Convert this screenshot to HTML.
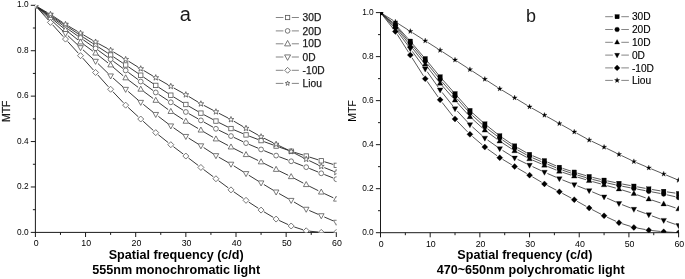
<!DOCTYPE html>
<html><head><meta charset="utf-8"><title>MTF</title>
<style>
html,body{margin:0;padding:0;background:#fff;}
body{width:685px;height:279px;overflow:hidden;font-family:"Liberation Sans",sans-serif;}
svg{display:block;will-change:transform;opacity:0.999;}
text{font-family:"Liberation Sans",sans-serif;fill:#1a1a1a;}
.tk{font-size:8.3px;fill:#000;}
.tkx{font-size:8.8px;fill:#000;}
.lgA{font-size:10.2px;stroke:#1a1a1a;stroke-width:0.25px;}
.lgB{font-size:10.2px;fill:#000;stroke:#000;stroke-width:0.12px;}
.ttl{font-size:20px;}
.mtfA{font-size:10.5px;stroke:#1a1a1a;stroke-width:0.25px;}
.mtfB{font-size:10.5px;fill:#000;}
.xl{font-size:12.6px;font-weight:bold;fill:#000;}
</style></head><body>
<svg width="685" height="279" viewBox="0 0 685 279">
<rect width="685" height="279" fill="#fff"/>
<path d="M35.4 4.8V232.9M34.9 232.4H336.8M35.40 232.4v4.6M60.48 232.4v2.5M85.55 232.4v4.6M110.62 232.4v2.5M135.70 232.4v4.6M160.78 232.4v2.5M185.85 232.4v4.6M210.93 232.4v2.5M236.00 232.4v4.6M261.07 232.4v2.5M286.15 232.4v4.6M311.23 232.4v2.5M336.30 232.4v4.6M35.4 232.40h-4.6M35.4 209.69h-2.5M35.4 186.98h-4.6M35.4 164.27h-2.5M35.4 141.56h-4.6M35.4 118.85h-2.5M35.4 96.14h-4.6M35.4 73.43h-2.5M35.4 50.72h-4.6M35.4 28.01h-2.5M35.4 5.30h-4.6" stroke="#1a1a1a" stroke-width="1" fill="none"/>
<clipPath id="ca"><rect x="35.4" y="5.3" width="301.20000000000005" height="227.1"/></clipPath>
<g clip-path="url(#ca)">
<path d="M38.17 7.50L47.68 13.67M53.19 17.29L62.74 23.63M68.24 27.28L77.79 33.62M83.30 37.25L92.81 43.42M98.35 47.01L107.86 53.18M113.37 56.81L122.92 63.15M128.40 66.83L137.99 73.34M143.44 77.05L153.03 83.56M158.53 87.21L168.04 93.38M173.61 96.91L183.04 102.75M188.71 106.13L198.03 111.48M203.81 114.66L213.02 119.53M218.89 122.54L228.03 127.09M234.02 129.85L242.99 133.64M249.12 136.09L257.99 139.43M264.18 141.72L273.02 144.92M279.24 147.13L288.05 150.19M294.31 152.27L303.06 155.04M309.36 157.04L318.11 159.81M324.41 161.76L333.14 164.40" stroke="#222" stroke-width="0.9" fill="none"/>
<path d="M38.09 7.61L47.75 14.46M53.12 18.31L62.82 25.34M68.18 29.18L77.84 36.04M83.25 39.83L92.87 46.51M98.25 50.33L107.95 57.36M113.28 61.26L123.02 68.46M128.32 72.39L138.06 79.59M143.39 83.49L153.09 90.52M158.52 94.26L168.04 100.48M173.58 104.07L183.08 110.19M188.73 113.59L198.01 118.78M203.78 121.99L213.06 127.18M218.91 130.22L228.01 134.62M233.97 137.45L243.04 141.70M249.07 144.38L258.04 148.17M264.13 150.70L273.06 154.34M279.21 156.75L288.08 160.10M294.24 162.47L303.14 165.96M309.27 168.41L318.20 172.05M324.33 174.51L333.23 178.00" stroke="#222" stroke-width="0.9" fill="none"/>
<path d="M38.00 7.74L47.85 15.47M53.00 19.59L62.93 27.69M68.05 31.86L77.98 39.95M83.19 44.00L92.93 51.20M98.18 55.20L108.03 62.94M113.13 67.13L123.17 75.77M128.30 79.91L138.08 87.28M143.37 91.24L153.11 98.44M158.41 102.36L168.15 109.57M173.57 113.33L183.08 119.50M188.69 122.97L198.05 128.48M203.74 131.82L213.10 137.33M218.85 140.56L228.07 145.49M233.93 148.54L243.09 153.18M249.00 156.11L258.10 160.51M264.03 163.42L273.17 167.97M279.09 170.87L288.19 175.27M294.08 178.25L303.29 183.11M309.16 186.13L318.30 190.68M324.24 193.55L333.31 197.79" stroke="#222" stroke-width="0.9" fill="none"/>
<path d="M37.85 7.92L48.00 17.11M52.85 21.58L63.08 31.15M67.89 35.67L78.13 45.34M82.98 49.82L93.13 59.01M97.94 63.53L108.26 73.57M113.09 78.07L123.21 87.08M128.17 91.43L138.22 100.13M143.29 104.35L153.19 112.30M158.38 116.37L168.18 123.84M173.51 127.73L183.15 134.48M188.65 138.12L198.09 143.99M203.66 147.54L213.18 153.78M218.81 157.21L228.12 162.50M233.78 165.87L243.23 171.78M248.84 175.26L258.27 181.10M263.90 184.54L273.30 190.22M279.00 193.53L288.28 198.72M294.01 202.00L303.37 207.51M309.24 210.49L318.22 214.35M324.28 216.97L333.27 220.88" stroke="#222" stroke-width="0.9" fill="none"/>
<path d="M37.61 8.15L48.24 19.94M52.65 24.84L63.28 36.63M67.71 41.53L78.32 53.22M82.74 58.12L93.38 70.01M97.78 74.93L108.42 86.81M112.89 91.67L123.40 102.77M128.10 107.41L138.29 116.79M143.16 121.24L153.31 130.43M158.34 134.71L168.23 142.62M173.44 146.67L183.22 154.05M188.48 158.04L198.27 165.47M203.53 169.44L213.30 176.77M218.59 180.71L228.33 187.92M233.70 191.76L243.32 198.44M248.80 202.12L258.31 208.29M263.91 211.78L273.29 217.37M279.12 220.44L288.17 224.61M294.31 226.99L303.07 229.80M309.49 231.16L317.97 232.05M324.56 232.40L333.00 232.40" stroke="#222" stroke-width="0.9" fill="none"/>
<path d="M38.26 7.34L47.58 12.69M53.19 16.16L62.74 22.50M68.33 26.00L77.69 31.50M83.38 34.85L92.74 40.36M98.48 43.61L107.73 48.64M113.44 51.93L122.85 57.69M128.47 61.15L137.91 67.00M143.55 70.43L152.92 76.00M158.62 79.33L167.94 84.68M173.69 87.93L182.97 93.11M188.67 96.43L198.07 102.10M203.81 105.35L213.02 110.21M218.87 113.27L228.05 118.01M233.83 121.19L243.18 126.67M248.91 129.94L258.19 135.13M264.03 138.21L273.17 142.76M279.09 145.67L288.19 150.06M294.10 153.00L303.27 157.71M309.19 160.64L318.27 164.96M324.32 167.60L333.24 171.17" stroke="#222" stroke-width="0.9" fill="none"/>
<rect x="33.20" y="3.50" width="4.40" height="4.40" fill="#fff" stroke="#555" stroke-width="0.8"/>
<rect x="48.24" y="13.27" width="4.40" height="4.40" fill="#fff" stroke="#555" stroke-width="0.8"/>
<rect x="63.29" y="23.26" width="4.40" height="4.40" fill="#fff" stroke="#555" stroke-width="0.8"/>
<rect x="78.33" y="33.25" width="4.40" height="4.40" fill="#fff" stroke="#555" stroke-width="0.8"/>
<rect x="93.38" y="43.02" width="4.40" height="4.40" fill="#fff" stroke="#555" stroke-width="0.8"/>
<rect x="108.42" y="52.78" width="4.40" height="4.40" fill="#fff" stroke="#555" stroke-width="0.8"/>
<rect x="123.47" y="62.77" width="4.40" height="4.40" fill="#fff" stroke="#555" stroke-width="0.8"/>
<rect x="138.52" y="72.99" width="4.40" height="4.40" fill="#fff" stroke="#555" stroke-width="0.8"/>
<rect x="153.56" y="83.21" width="4.40" height="4.40" fill="#fff" stroke="#555" stroke-width="0.8"/>
<rect x="168.61" y="92.98" width="4.40" height="4.40" fill="#fff" stroke="#555" stroke-width="0.8"/>
<rect x="183.65" y="102.29" width="4.40" height="4.40" fill="#fff" stroke="#555" stroke-width="0.8"/>
<rect x="198.70" y="110.92" width="4.40" height="4.40" fill="#fff" stroke="#555" stroke-width="0.8"/>
<rect x="213.74" y="118.87" width="4.40" height="4.40" fill="#fff" stroke="#555" stroke-width="0.8"/>
<rect x="228.79" y="126.36" width="4.40" height="4.40" fill="#fff" stroke="#555" stroke-width="0.8"/>
<rect x="243.83" y="132.72" width="4.40" height="4.40" fill="#fff" stroke="#555" stroke-width="0.8"/>
<rect x="258.88" y="138.40" width="4.40" height="4.40" fill="#fff" stroke="#555" stroke-width="0.8"/>
<rect x="273.92" y="143.85" width="4.40" height="4.40" fill="#fff" stroke="#555" stroke-width="0.8"/>
<rect x="288.97" y="149.07" width="4.40" height="4.40" fill="#fff" stroke="#555" stroke-width="0.8"/>
<rect x="304.01" y="153.84" width="4.40" height="4.40" fill="#fff" stroke="#555" stroke-width="0.8"/>
<rect x="319.06" y="158.61" width="4.40" height="4.40" fill="#fff" stroke="#555" stroke-width="0.8"/>
<rect x="334.10" y="163.15" width="4.40" height="4.40" fill="#fff" stroke="#555" stroke-width="0.8"/>
<circle cx="35.40" cy="5.70" r="2.40" fill="#fff" stroke="#555" stroke-width="0.8"/>
<circle cx="50.45" cy="16.37" r="2.40" fill="#fff" stroke="#555" stroke-width="0.8"/>
<circle cx="65.49" cy="27.27" r="2.40" fill="#fff" stroke="#555" stroke-width="0.8"/>
<circle cx="80.53" cy="37.95" r="2.40" fill="#fff" stroke="#555" stroke-width="0.8"/>
<circle cx="95.58" cy="48.39" r="2.40" fill="#fff" stroke="#555" stroke-width="0.8"/>
<circle cx="110.62" cy="59.30" r="2.40" fill="#fff" stroke="#555" stroke-width="0.8"/>
<circle cx="125.67" cy="70.42" r="2.40" fill="#fff" stroke="#555" stroke-width="0.8"/>
<circle cx="140.72" cy="81.55" r="2.40" fill="#fff" stroke="#555" stroke-width="0.8"/>
<circle cx="155.76" cy="92.45" r="2.40" fill="#fff" stroke="#555" stroke-width="0.8"/>
<circle cx="170.81" cy="102.29" r="2.40" fill="#fff" stroke="#555" stroke-width="0.8"/>
<circle cx="185.85" cy="111.98" r="2.40" fill="#fff" stroke="#555" stroke-width="0.8"/>
<circle cx="200.90" cy="120.39" r="2.40" fill="#fff" stroke="#555" stroke-width="0.8"/>
<circle cx="215.94" cy="128.79" r="2.40" fill="#fff" stroke="#555" stroke-width="0.8"/>
<circle cx="230.99" cy="136.06" r="2.40" fill="#fff" stroke="#555" stroke-width="0.8"/>
<circle cx="246.03" cy="143.10" r="2.40" fill="#fff" stroke="#555" stroke-width="0.8"/>
<circle cx="261.07" cy="149.45" r="2.40" fill="#fff" stroke="#555" stroke-width="0.8"/>
<circle cx="276.12" cy="155.59" r="2.40" fill="#fff" stroke="#555" stroke-width="0.8"/>
<circle cx="291.17" cy="161.26" r="2.40" fill="#fff" stroke="#555" stroke-width="0.8"/>
<circle cx="306.21" cy="167.17" r="2.40" fill="#fff" stroke="#555" stroke-width="0.8"/>
<circle cx="321.25" cy="173.30" r="2.40" fill="#fff" stroke="#555" stroke-width="0.8"/>
<circle cx="336.30" cy="179.20" r="2.40" fill="#fff" stroke="#555" stroke-width="0.8"/>
<polygon points="35.40,2.60 38.19,7.62 32.61,7.62" fill="#fff" stroke="#555" stroke-width="0.8"/>
<polygon points="50.45,14.41 53.23,19.43 47.66,19.43" fill="#fff" stroke="#555" stroke-width="0.8"/>
<polygon points="65.49,26.67 68.28,31.69 62.70,31.69" fill="#fff" stroke="#555" stroke-width="0.8"/>
<polygon points="80.53,38.94 83.33,43.96 77.74,43.96" fill="#fff" stroke="#555" stroke-width="0.8"/>
<polygon points="95.58,50.06 98.37,55.09 92.79,55.09" fill="#fff" stroke="#555" stroke-width="0.8"/>
<polygon points="110.62,61.87 113.42,66.90 107.83,66.90" fill="#fff" stroke="#555" stroke-width="0.8"/>
<polygon points="125.67,74.82 128.46,79.84 122.88,79.84" fill="#fff" stroke="#555" stroke-width="0.8"/>
<polygon points="140.72,86.17 143.50,91.19 137.93,91.19" fill="#fff" stroke="#555" stroke-width="0.8"/>
<polygon points="155.76,97.30 158.55,102.32 152.97,102.32" fill="#fff" stroke="#555" stroke-width="0.8"/>
<polygon points="170.81,108.43 173.60,113.45 168.02,113.45" fill="#fff" stroke="#555" stroke-width="0.8"/>
<polygon points="185.85,118.19 188.64,123.22 183.06,123.22" fill="#fff" stroke="#555" stroke-width="0.8"/>
<polygon points="200.90,127.05 203.69,132.07 198.11,132.07" fill="#fff" stroke="#555" stroke-width="0.8"/>
<polygon points="215.94,135.91 218.73,140.93 213.15,140.93" fill="#fff" stroke="#555" stroke-width="0.8"/>
<polygon points="230.99,143.95 233.78,148.97 228.20,148.97" fill="#fff" stroke="#555" stroke-width="0.8"/>
<polygon points="246.03,151.58 248.82,156.60 243.24,156.60" fill="#fff" stroke="#555" stroke-width="0.8"/>
<polygon points="261.07,158.84 263.87,163.87 258.28,163.87" fill="#fff" stroke="#555" stroke-width="0.8"/>
<polygon points="276.12,166.34 278.91,171.36 273.33,171.36" fill="#fff" stroke="#555" stroke-width="0.8"/>
<polygon points="291.17,173.61 293.96,178.63 288.38,178.63" fill="#fff" stroke="#555" stroke-width="0.8"/>
<polygon points="306.21,181.55 309.00,186.58 303.42,186.58" fill="#fff" stroke="#555" stroke-width="0.8"/>
<polygon points="321.25,189.05 324.05,194.07 318.46,194.07" fill="#fff" stroke="#555" stroke-width="0.8"/>
<polygon points="336.30,196.09 339.09,201.11 333.51,201.11" fill="#fff" stroke="#555" stroke-width="0.8"/>
<polygon points="35.40,8.80 38.19,3.78 32.61,3.78" fill="#fff" stroke="#555" stroke-width="0.8"/>
<polygon points="50.45,22.43 53.23,17.40 47.66,17.40" fill="#fff" stroke="#555" stroke-width="0.8"/>
<polygon points="65.49,36.51 68.28,31.48 62.70,31.48" fill="#fff" stroke="#555" stroke-width="0.8"/>
<polygon points="80.53,50.70 83.33,45.68 77.74,45.68" fill="#fff" stroke="#555" stroke-width="0.8"/>
<polygon points="95.58,64.33 98.37,59.30 92.79,59.30" fill="#fff" stroke="#555" stroke-width="0.8"/>
<polygon points="110.62,78.97 113.42,73.95 107.83,73.95" fill="#fff" stroke="#555" stroke-width="0.8"/>
<polygon points="125.67,92.37 128.46,87.35 122.88,87.35" fill="#fff" stroke="#555" stroke-width="0.8"/>
<polygon points="140.72,105.39 143.50,100.36 137.93,100.36" fill="#fff" stroke="#555" stroke-width="0.8"/>
<polygon points="155.76,117.47 158.55,112.45 152.97,112.45" fill="#fff" stroke="#555" stroke-width="0.8"/>
<polygon points="170.81,128.94 173.60,123.91 168.02,123.91" fill="#fff" stroke="#555" stroke-width="0.8"/>
<polygon points="185.85,139.47 188.64,134.45 183.06,134.45" fill="#fff" stroke="#555" stroke-width="0.8"/>
<polygon points="200.90,148.83 203.69,143.81 198.11,143.81" fill="#fff" stroke="#555" stroke-width="0.8"/>
<polygon points="215.94,158.69 218.73,153.66 213.15,153.66" fill="#fff" stroke="#555" stroke-width="0.8"/>
<polygon points="230.99,167.22 233.78,162.20 228.20,162.20" fill="#fff" stroke="#555" stroke-width="0.8"/>
<polygon points="246.03,176.63 248.82,171.60 243.24,171.60" fill="#fff" stroke="#555" stroke-width="0.8"/>
<polygon points="261.07,185.94 263.87,180.92 258.28,180.92" fill="#fff" stroke="#555" stroke-width="0.8"/>
<polygon points="276.12,195.02 278.91,190.00 273.33,190.00" fill="#fff" stroke="#555" stroke-width="0.8"/>
<polygon points="291.17,203.42 293.96,198.40 288.38,198.40" fill="#fff" stroke="#555" stroke-width="0.8"/>
<polygon points="306.21,212.28 309.00,207.26 303.42,207.26" fill="#fff" stroke="#555" stroke-width="0.8"/>
<polygon points="321.25,218.75 324.05,213.73 318.46,213.73" fill="#fff" stroke="#555" stroke-width="0.8"/>
<polygon points="336.30,225.29 339.09,220.27 333.51,220.27" fill="#fff" stroke="#555" stroke-width="0.8"/>
<polygon points="35.40,2.70 38.40,5.70 35.40,8.70 32.40,5.70" fill="#fff" stroke="#555" stroke-width="0.8"/>
<polygon points="50.45,19.39 53.45,22.39 50.45,25.39 47.45,22.39" fill="#fff" stroke="#555" stroke-width="0.8"/>
<polygon points="65.49,36.08 68.49,39.08 65.49,42.08 62.49,39.08" fill="#fff" stroke="#555" stroke-width="0.8"/>
<polygon points="80.53,52.66 83.53,55.66 80.53,58.66 77.53,55.66" fill="#fff" stroke="#555" stroke-width="0.8"/>
<polygon points="95.58,69.47 98.58,72.47 95.58,75.47 92.58,72.47" fill="#fff" stroke="#555" stroke-width="0.8"/>
<polygon points="110.62,86.27 113.62,89.27 110.62,92.27 107.62,89.27" fill="#fff" stroke="#555" stroke-width="0.8"/>
<polygon points="125.67,102.17 128.67,105.17 125.67,108.17 122.67,105.17" fill="#fff" stroke="#555" stroke-width="0.8"/>
<polygon points="140.72,116.02 143.72,119.02 140.72,122.02 137.72,119.02" fill="#fff" stroke="#555" stroke-width="0.8"/>
<polygon points="155.76,129.65 158.76,132.65 155.76,135.65 152.76,132.65" fill="#fff" stroke="#555" stroke-width="0.8"/>
<polygon points="170.81,141.69 173.81,144.69 170.81,147.69 167.81,144.69" fill="#fff" stroke="#555" stroke-width="0.8"/>
<polygon points="185.85,153.04 188.85,156.04 185.85,159.04 182.85,156.04" fill="#fff" stroke="#555" stroke-width="0.8"/>
<polygon points="200.90,164.46 203.90,167.46 200.90,170.46 197.90,167.46" fill="#fff" stroke="#555" stroke-width="0.8"/>
<polygon points="215.94,175.75 218.94,178.75 215.94,181.75 212.94,178.75" fill="#fff" stroke="#555" stroke-width="0.8"/>
<polygon points="230.99,186.88 233.99,189.88 230.99,192.88 227.99,189.88" fill="#fff" stroke="#555" stroke-width="0.8"/>
<polygon points="246.03,197.32 249.03,200.32 246.03,203.32 243.03,200.32" fill="#fff" stroke="#555" stroke-width="0.8"/>
<polygon points="261.07,207.09 264.07,210.09 261.07,213.09 258.07,210.09" fill="#fff" stroke="#555" stroke-width="0.8"/>
<polygon points="276.12,216.06 279.12,219.06 276.12,222.06 273.12,219.06" fill="#fff" stroke="#555" stroke-width="0.8"/>
<polygon points="291.17,222.99 294.17,225.99 291.17,228.99 288.17,225.99" fill="#fff" stroke="#555" stroke-width="0.8"/>
<polygon points="306.21,227.81 309.21,230.81 306.21,233.81 303.21,230.81" fill="#fff" stroke="#555" stroke-width="0.8"/>
<polygon points="321.25,229.40 324.25,232.40 321.25,235.40 318.25,232.40" fill="#fff" stroke="#555" stroke-width="0.8"/>
<polygon points="336.30,229.40 339.30,232.40 336.30,235.40 333.30,232.40" fill="#fff" stroke="#555" stroke-width="0.8"/>
<polygon points="35.40,2.65 36.13,4.69 38.30,4.76 36.59,6.09 37.19,8.17 35.40,6.95 33.61,8.17 34.21,6.09 32.50,4.76 34.67,4.69" fill="#fff" stroke="#555" stroke-width="0.8"/>
<polygon points="50.45,11.28 51.18,13.32 53.35,13.39 51.63,14.72 52.24,16.80 50.45,15.58 48.65,16.80 49.26,14.72 47.54,13.39 49.71,13.32" fill="#fff" stroke="#555" stroke-width="0.8"/>
<polygon points="65.49,21.27 66.22,23.31 68.39,23.38 66.68,24.71 67.28,26.79 65.49,25.57 63.70,26.79 64.30,24.71 62.59,23.38 64.76,23.31" fill="#fff" stroke="#555" stroke-width="0.8"/>
<polygon points="80.53,30.13 81.27,32.17 83.44,32.24 81.72,33.57 82.33,35.65 80.53,34.43 78.74,35.65 79.35,33.57 77.63,32.24 79.80,32.17" fill="#fff" stroke="#555" stroke-width="0.8"/>
<polygon points="95.58,38.99 96.31,41.02 98.48,41.09 96.77,42.42 97.37,44.50 95.58,43.29 93.79,44.50 94.39,42.42 92.68,41.09 94.85,41.02" fill="#fff" stroke="#555" stroke-width="0.8"/>
<polygon points="110.62,47.16 111.36,49.20 113.53,49.27 111.81,50.60 112.42,52.68 110.62,51.46 108.83,52.68 109.44,50.60 107.72,49.27 109.89,49.20" fill="#fff" stroke="#555" stroke-width="0.8"/>
<polygon points="125.67,56.36 126.40,58.40 128.57,58.47 126.86,59.80 127.46,61.88 125.67,60.66 123.88,61.88 124.48,59.80 122.77,58.47 124.94,58.40" fill="#fff" stroke="#555" stroke-width="0.8"/>
<polygon points="140.72,65.69 141.45,67.73 143.62,67.80 141.90,69.13 142.51,71.21 140.72,69.99 138.92,71.21 139.53,69.13 137.81,67.80 139.98,67.73" fill="#fff" stroke="#555" stroke-width="0.8"/>
<polygon points="155.76,74.64 156.49,76.68 158.66,76.75 156.95,78.08 157.55,80.16 155.76,78.94 153.97,80.16 154.57,78.08 152.86,76.75 155.03,76.68" fill="#fff" stroke="#555" stroke-width="0.8"/>
<polygon points="170.81,83.27 171.54,85.31 173.71,85.38 171.99,86.71 172.60,88.79 170.81,87.57 169.01,88.79 169.62,86.71 167.90,85.38 170.07,85.31" fill="#fff" stroke="#555" stroke-width="0.8"/>
<polygon points="185.85,91.67 186.58,93.71 188.75,93.78 187.04,95.11 187.64,97.19 185.85,95.97 184.06,97.19 184.66,95.11 182.95,93.78 185.12,93.71" fill="#fff" stroke="#555" stroke-width="0.8"/>
<polygon points="200.90,100.76 201.63,102.80 203.80,102.86 202.08,104.19 202.69,106.27 200.90,105.06 199.10,106.27 199.71,104.19 197.99,102.86 200.16,102.80" fill="#fff" stroke="#555" stroke-width="0.8"/>
<polygon points="215.94,108.71 216.67,110.74 218.84,110.81 217.13,112.14 217.73,114.22 215.94,113.01 214.15,114.22 214.75,112.14 213.04,110.81 215.21,110.74" fill="#fff" stroke="#555" stroke-width="0.8"/>
<polygon points="230.99,116.47 231.72,118.51 233.89,118.58 232.17,119.91 232.78,121.99 230.99,120.77 229.19,121.99 229.80,119.91 228.08,118.58 230.25,118.51" fill="#fff" stroke="#555" stroke-width="0.8"/>
<polygon points="246.03,125.28 246.76,127.32 248.93,127.39 247.22,128.72 247.82,130.80 246.03,129.58 244.24,130.80 244.84,128.72 243.13,127.39 245.30,127.32" fill="#fff" stroke="#555" stroke-width="0.8"/>
<polygon points="261.07,133.69 261.81,135.73 263.98,135.79 262.26,137.12 262.87,139.20 261.07,137.99 259.28,139.20 259.89,137.12 258.17,135.79 260.34,135.73" fill="#fff" stroke="#555" stroke-width="0.8"/>
<polygon points="276.12,141.18 276.85,143.22 279.02,143.29 277.31,144.62 277.91,146.70 276.12,145.48 274.33,146.70 274.93,144.62 273.22,143.29 275.39,143.22" fill="#fff" stroke="#555" stroke-width="0.8"/>
<polygon points="291.17,148.45 291.90,150.49 294.07,150.56 292.35,151.88 292.96,153.97 291.17,152.75 289.37,153.97 289.98,151.88 288.26,150.56 290.43,150.49" fill="#fff" stroke="#555" stroke-width="0.8"/>
<polygon points="306.21,156.17 306.94,158.21 309.11,158.28 307.40,159.61 308.00,161.69 306.21,160.47 304.42,161.69 305.02,159.61 303.31,158.28 305.48,158.21" fill="#fff" stroke="#555" stroke-width="0.8"/>
<polygon points="321.25,163.32 321.99,165.36 324.16,165.43 322.44,166.76 323.05,168.84 321.25,167.62 319.46,168.84 320.07,166.76 318.35,165.43 320.52,165.36" fill="#fff" stroke="#555" stroke-width="0.8"/>
<polygon points="336.30,169.34 337.03,171.38 339.20,171.45 337.49,172.78 338.09,174.86 336.30,173.64 334.51,174.86 335.11,172.78 333.40,171.45 335.57,171.38" fill="#fff" stroke="#555" stroke-width="0.8"/>
</g>
<text x="36.10" y="246.30" text-anchor="middle" class="tkx">0</text>
<text x="86.25" y="246.30" text-anchor="middle" class="tkx">10</text>
<text x="136.40" y="246.30" text-anchor="middle" class="tkx">20</text>
<text x="186.55" y="246.30" text-anchor="middle" class="tkx">30</text>
<text x="236.70" y="246.30" text-anchor="middle" class="tkx">40</text>
<text x="286.85" y="246.30" text-anchor="middle" class="tkx">50</text>
<text x="337.00" y="246.30" text-anchor="middle" class="tkx">60</text>
<text x="28.60" y="234.50" text-anchor="end" class="tk">0.0</text>
<text x="28.60" y="189.08" text-anchor="end" class="tk">0.2</text>
<text x="28.60" y="143.66" text-anchor="end" class="tk">0.4</text>
<text x="28.60" y="98.24" text-anchor="end" class="tk">0.6</text>
<text x="28.60" y="52.82" text-anchor="end" class="tk">0.8</text>
<text x="28.60" y="7.40" text-anchor="end" class="tk">1.0</text>
<path d="M380.5 12.1V233.2M380.0 232.7H679.1M380.50 232.7v4.6M405.34 232.7v2.5M430.18 232.7v4.6M455.02 232.7v2.5M479.87 232.7v4.6M504.71 232.7v2.5M529.55 232.7v4.6M554.39 232.7v2.5M579.23 232.7v4.6M604.08 232.7v2.5M628.92 232.7v4.6M653.76 232.7v2.5M678.60 232.7v4.6M380.5 232.70h-4.6M380.5 210.69h-2.5M380.5 188.68h-4.6M380.5 166.67h-2.5M380.5 144.66h-4.6M380.5 122.65h-2.5M380.5 100.64h-4.6M380.5 78.63h-2.5M380.5 56.62h-4.6M380.5 34.61h-2.5M380.5 12.60h-4.6" stroke="#1a1a1a" stroke-width="1" fill="none"/>
<clipPath id="cb"><rect x="380.5" y="12.6" width="298.40000000000003" height="220.1"/></clipPath>
<g clip-path="url(#cb)">
<path d="M383.08 14.66L392.82 22.43M397.60 26.95L408.11 38.75M412.45 43.72L423.07 56.18M427.31 61.24L438.03 74.32M442.31 79.34L452.84 91.24M457.21 96.18L467.74 108.07M472.38 112.75L482.38 121.76M487.42 126.03L497.16 133.80M502.47 137.71L511.92 144.13M517.51 147.61L526.68 152.82M532.59 155.73L541.41 159.45M547.47 162.06L556.34 165.99M562.50 168.35L571.13 171.15M577.43 173.11L586.01 175.64M592.38 177.36L600.87 179.42M607.30 180.90L615.75 182.71M622.22 184.01L630.64 185.58M637.13 186.80L645.55 188.38M652.05 189.51L660.44 190.86M666.96 191.87L675.34 193.11" stroke="#222" stroke-width="0.75" fill="none"/>
<path d="M382.99 14.77L392.92 23.42M397.54 28.10L408.18 40.68M412.41 45.74L423.11 58.70M427.29 63.81L438.04 77.06M442.31 82.09L452.84 93.99M457.22 98.92L467.73 110.72M472.36 115.41L482.40 124.60M487.47 128.82L497.10 136.07M502.46 139.93L511.93 146.44M517.53 149.91L526.66 154.95M532.58 157.84L541.42 161.63M547.50 164.19L556.31 167.83M562.48 170.15L571.14 173.09M577.43 175.09L586.01 177.62M592.37 179.36L600.87 181.49M607.30 183.01L615.76 184.88M622.22 186.22L630.64 187.84M637.13 189.08L645.55 190.70M652.04 191.92L660.45 193.47M666.91 194.81L675.38 196.75" stroke="#222" stroke-width="0.75" fill="none"/>
<path d="M382.88 14.89L393.02 24.62M397.46 29.49L408.25 43.03M412.37 48.20L423.16 61.74M427.26 66.92L438.08 80.66M442.30 85.73L452.85 97.72M457.24 102.65L467.72 114.26M472.38 118.92L482.39 127.98M487.50 132.15L497.08 139.19M502.51 142.94L511.88 149.02M517.55 152.39L526.65 157.29M532.59 160.15L541.42 163.92M547.51 166.46L556.30 170.05M562.50 172.31L571.13 175.11M577.42 177.09L586.01 179.69M592.35 181.54L600.90 183.94M607.25 185.72L615.80 188.10M622.13 189.97L630.73 192.65M636.99 194.75L645.69 197.90M651.92 200.07L660.56 202.94M666.83 205.02L675.47 207.89" stroke="#222" stroke-width="0.75" fill="none"/>
<path d="M382.73 15.03L393.18 26.45M397.39 31.52L408.33 46.06M412.27 51.35L423.26 66.29M427.13 71.63L438.20 87.17M442.17 92.44L452.97 106.05M457.27 111.04L467.68 122.22M472.38 126.84L482.38 135.85M487.53 139.97L497.05 146.71M502.54 150.38L511.85 156.22M517.61 159.42L526.58 163.78M532.54 166.61L541.46 170.78M547.48 173.49L556.33 177.35M562.43 179.89L571.20 183.39M577.33 185.83L586.10 189.33M592.21 191.83L601.03 195.54M607.09 198.16L615.96 202.09M622.05 204.63L630.81 208.06M636.99 210.39L645.69 213.57M651.88 215.86L660.61 219.15M666.81 221.39L675.48 224.42" stroke="#222" stroke-width="0.75" fill="none"/>
<path d="M382.54 15.19L393.36 28.94M397.17 34.32L408.55 52.29M412.07 57.87L423.45 75.84M427.11 81.33L438.22 97.17M442.15 102.47L452.99 116.31M457.32 121.28L467.64 131.94M472.44 136.46L482.33 144.93M487.53 148.99L497.05 155.74M502.58 159.33L511.81 164.83M517.50 168.17L526.69 173.49M532.40 176.82L541.61 182.23M547.37 185.44L556.44 190.22M562.27 193.31L571.35 198.14M577.14 201.30L586.29 206.43M592.10 209.57L601.15 214.27M607.07 217.18L615.99 221.32M622.13 223.70L630.74 226.42M637.13 228.02L645.55 229.59M652.07 230.55L660.41 231.46M666.99 232.01L675.31 232.51" stroke="#222" stroke-width="0.75" fill="none"/>
<path d="M382.71 13.97L393.20 20.47M397.60 23.24L408.12 29.91M412.50 32.70L423.02 39.38M427.41 42.17L437.93 48.84M442.30 51.65L452.84 58.50M457.21 61.33L467.74 68.11M472.11 70.93L482.65 77.77M487.02 80.59L497.55 87.35M501.96 90.10L512.42 96.43M516.87 99.13L527.33 105.46M531.82 108.08L542.19 113.89M546.72 116.44L557.09 122.26M561.63 124.80L572.00 130.62M576.55 133.14L586.89 138.79M591.52 141.15L601.72 145.97M606.41 148.22L616.64 153.21M621.32 155.47L631.54 160.37M636.28 162.52L646.40 166.82M651.19 168.83L661.29 173.01M666.10 175.00L676.20 179.21" stroke="#222" stroke-width="0.75" fill="none"/>
<rect x="378.30" y="10.40" width="4.40" height="4.40" fill="#000" stroke="#000" stroke-width="0.3"/>
<rect x="393.20" y="22.29" width="4.40" height="4.40" fill="#000" stroke="#000" stroke-width="0.3"/>
<rect x="408.11" y="39.01" width="4.40" height="4.40" fill="#000" stroke="#000" stroke-width="0.3"/>
<rect x="423.02" y="56.49" width="4.40" height="4.40" fill="#000" stroke="#000" stroke-width="0.3"/>
<rect x="437.92" y="74.67" width="4.40" height="4.40" fill="#000" stroke="#000" stroke-width="0.3"/>
<rect x="452.82" y="91.51" width="4.40" height="4.40" fill="#000" stroke="#000" stroke-width="0.3"/>
<rect x="467.73" y="108.34" width="4.40" height="4.40" fill="#000" stroke="#000" stroke-width="0.3"/>
<rect x="482.64" y="121.77" width="4.40" height="4.40" fill="#000" stroke="#000" stroke-width="0.3"/>
<rect x="497.54" y="133.66" width="4.40" height="4.40" fill="#000" stroke="#000" stroke-width="0.3"/>
<rect x="512.44" y="143.78" width="4.40" height="4.40" fill="#000" stroke="#000" stroke-width="0.3"/>
<rect x="527.35" y="152.25" width="4.40" height="4.40" fill="#000" stroke="#000" stroke-width="0.3"/>
<rect x="542.25" y="158.53" width="4.40" height="4.40" fill="#000" stroke="#000" stroke-width="0.3"/>
<rect x="557.16" y="165.13" width="4.40" height="4.40" fill="#000" stroke="#000" stroke-width="0.3"/>
<rect x="572.06" y="169.97" width="4.40" height="4.40" fill="#000" stroke="#000" stroke-width="0.3"/>
<rect x="586.97" y="174.37" width="4.40" height="4.40" fill="#000" stroke="#000" stroke-width="0.3"/>
<rect x="601.88" y="178.01" width="4.40" height="4.40" fill="#000" stroke="#000" stroke-width="0.3"/>
<rect x="616.78" y="181.20" width="4.40" height="4.40" fill="#000" stroke="#000" stroke-width="0.3"/>
<rect x="631.68" y="183.99" width="4.40" height="4.40" fill="#000" stroke="#000" stroke-width="0.3"/>
<rect x="646.59" y="186.79" width="4.40" height="4.40" fill="#000" stroke="#000" stroke-width="0.3"/>
<rect x="661.50" y="189.19" width="4.40" height="4.40" fill="#000" stroke="#000" stroke-width="0.3"/>
<rect x="676.40" y="191.39" width="4.40" height="4.40" fill="#000" stroke="#000" stroke-width="0.3"/>
<circle cx="380.50" cy="12.60" r="2.40" fill="#000" stroke="#000" stroke-width="0.3"/>
<circle cx="395.40" cy="25.59" r="2.40" fill="#000" stroke="#000" stroke-width="0.3"/>
<circle cx="410.31" cy="43.19" r="2.40" fill="#000" stroke="#000" stroke-width="0.3"/>
<circle cx="425.22" cy="61.24" r="2.40" fill="#000" stroke="#000" stroke-width="0.3"/>
<circle cx="440.12" cy="79.62" r="2.40" fill="#000" stroke="#000" stroke-width="0.3"/>
<circle cx="455.02" cy="96.46" r="2.40" fill="#000" stroke="#000" stroke-width="0.3"/>
<circle cx="469.93" cy="113.19" r="2.40" fill="#000" stroke="#000" stroke-width="0.3"/>
<circle cx="484.84" cy="126.83" r="2.40" fill="#000" stroke="#000" stroke-width="0.3"/>
<circle cx="499.74" cy="138.06" r="2.40" fill="#000" stroke="#000" stroke-width="0.3"/>
<circle cx="514.64" cy="148.31" r="2.40" fill="#000" stroke="#000" stroke-width="0.3"/>
<circle cx="529.55" cy="156.55" r="2.40" fill="#000" stroke="#000" stroke-width="0.3"/>
<circle cx="544.46" cy="162.93" r="2.40" fill="#000" stroke="#000" stroke-width="0.3"/>
<circle cx="559.36" cy="169.09" r="2.40" fill="#000" stroke="#000" stroke-width="0.3"/>
<circle cx="574.26" cy="174.15" r="2.40" fill="#000" stroke="#000" stroke-width="0.3"/>
<circle cx="589.17" cy="178.56" r="2.40" fill="#000" stroke="#000" stroke-width="0.3"/>
<circle cx="604.08" cy="182.30" r="2.40" fill="#000" stroke="#000" stroke-width="0.3"/>
<circle cx="618.98" cy="185.60" r="2.40" fill="#000" stroke="#000" stroke-width="0.3"/>
<circle cx="633.88" cy="188.46" r="2.40" fill="#000" stroke="#000" stroke-width="0.3"/>
<circle cx="648.79" cy="191.32" r="2.40" fill="#000" stroke="#000" stroke-width="0.3"/>
<circle cx="663.70" cy="194.07" r="2.40" fill="#000" stroke="#000" stroke-width="0.3"/>
<circle cx="678.60" cy="197.48" r="2.40" fill="#000" stroke="#000" stroke-width="0.3"/>
<polygon points="380.50,9.50 383.29,14.52 377.71,14.52" fill="#000" stroke="#000" stroke-width="0.3"/>
<polygon points="395.40,23.81 398.19,28.83 392.61,28.83" fill="#000" stroke="#000" stroke-width="0.3"/>
<polygon points="410.31,42.52 413.10,47.54 407.52,47.54" fill="#000" stroke="#000" stroke-width="0.3"/>
<polygon points="425.22,61.22 428.01,66.25 422.43,66.25" fill="#000" stroke="#000" stroke-width="0.3"/>
<polygon points="440.12,80.15 442.91,85.17 437.33,85.17" fill="#000" stroke="#000" stroke-width="0.3"/>
<polygon points="455.02,97.10 457.81,102.12 452.23,102.12" fill="#000" stroke="#000" stroke-width="0.3"/>
<polygon points="469.93,113.61 472.72,118.63 467.14,118.63" fill="#000" stroke="#000" stroke-width="0.3"/>
<polygon points="484.84,127.10 487.63,132.12 482.05,132.12" fill="#000" stroke="#000" stroke-width="0.3"/>
<polygon points="499.74,138.04 502.53,143.06 496.95,143.06" fill="#000" stroke="#000" stroke-width="0.3"/>
<polygon points="514.64,147.72 517.43,152.74 511.85,152.74" fill="#000" stroke="#000" stroke-width="0.3"/>
<polygon points="529.55,155.76 532.34,160.78 526.76,160.78" fill="#000" stroke="#000" stroke-width="0.3"/>
<polygon points="544.46,162.12 547.25,167.14 541.67,167.14" fill="#000" stroke="#000" stroke-width="0.3"/>
<polygon points="559.36,168.19 562.15,173.21 556.57,173.21" fill="#000" stroke="#000" stroke-width="0.3"/>
<polygon points="574.26,173.03 577.05,178.06 571.48,178.06" fill="#000" stroke="#000" stroke-width="0.3"/>
<polygon points="589.17,177.55 591.96,182.57 586.38,182.57" fill="#000" stroke="#000" stroke-width="0.3"/>
<polygon points="604.08,181.73 606.87,186.75 601.29,186.75" fill="#000" stroke="#000" stroke-width="0.3"/>
<polygon points="618.98,185.89 621.77,190.91 616.19,190.91" fill="#000" stroke="#000" stroke-width="0.3"/>
<polygon points="633.88,190.53 636.67,195.55 631.10,195.55" fill="#000" stroke="#000" stroke-width="0.3"/>
<polygon points="648.79,195.92 651.58,200.95 646.00,200.95" fill="#000" stroke="#000" stroke-width="0.3"/>
<polygon points="663.70,200.88 666.49,205.90 660.91,205.90" fill="#000" stroke="#000" stroke-width="0.3"/>
<polygon points="678.60,205.83 681.39,210.85 675.81,210.85" fill="#000" stroke="#000" stroke-width="0.3"/>
<polygon points="380.50,15.70 383.29,10.68 377.71,10.68" fill="#000" stroke="#000" stroke-width="0.3"/>
<polygon points="395.40,31.99 398.19,26.97 392.61,26.97" fill="#000" stroke="#000" stroke-width="0.3"/>
<polygon points="410.31,51.80 413.10,46.77 407.52,46.77" fill="#000" stroke="#000" stroke-width="0.3"/>
<polygon points="425.22,72.05 428.01,67.02 422.43,67.02" fill="#000" stroke="#000" stroke-width="0.3"/>
<polygon points="440.12,92.96 442.91,87.93 437.33,87.93" fill="#000" stroke="#000" stroke-width="0.3"/>
<polygon points="455.02,111.73 457.81,106.71 452.23,106.71" fill="#000" stroke="#000" stroke-width="0.3"/>
<polygon points="469.93,127.73 472.72,122.71 467.14,122.71" fill="#000" stroke="#000" stroke-width="0.3"/>
<polygon points="484.84,141.16 487.63,136.14 482.05,136.14" fill="#000" stroke="#000" stroke-width="0.3"/>
<polygon points="499.74,151.72 502.53,146.70 496.95,146.70" fill="#000" stroke="#000" stroke-width="0.3"/>
<polygon points="514.64,161.08 517.43,156.05 511.85,156.05" fill="#000" stroke="#000" stroke-width="0.3"/>
<polygon points="529.55,168.32 532.34,163.30 526.76,163.30" fill="#000" stroke="#000" stroke-width="0.3"/>
<polygon points="544.46,175.27 547.25,170.25 541.67,170.25" fill="#000" stroke="#000" stroke-width="0.3"/>
<polygon points="559.36,181.77 562.15,176.74 556.57,176.74" fill="#000" stroke="#000" stroke-width="0.3"/>
<polygon points="574.26,187.71 577.05,182.69 571.48,182.69" fill="#000" stroke="#000" stroke-width="0.3"/>
<polygon points="589.17,193.65 591.96,188.63 586.38,188.63" fill="#000" stroke="#000" stroke-width="0.3"/>
<polygon points="604.08,199.92 606.87,194.90 601.29,194.90" fill="#000" stroke="#000" stroke-width="0.3"/>
<polygon points="618.98,206.53 621.77,201.50 616.19,201.50" fill="#000" stroke="#000" stroke-width="0.3"/>
<polygon points="633.88,212.36 636.67,207.34 631.10,207.34" fill="#000" stroke="#000" stroke-width="0.3"/>
<polygon points="648.79,217.80 651.58,212.77 646.00,212.77" fill="#000" stroke="#000" stroke-width="0.3"/>
<polygon points="663.70,223.41 666.49,218.39 660.91,218.39" fill="#000" stroke="#000" stroke-width="0.3"/>
<polygon points="678.60,228.60 681.39,223.58 675.81,223.58" fill="#000" stroke="#000" stroke-width="0.3"/>
<polygon points="380.50,9.60 383.50,12.60 380.50,15.60 377.50,12.60" fill="#000" stroke="#000" stroke-width="0.3"/>
<polygon points="395.40,28.53 398.40,31.53 395.40,34.53 392.40,31.53" fill="#000" stroke="#000" stroke-width="0.3"/>
<polygon points="410.31,52.08 413.31,55.08 410.31,58.08 407.31,55.08" fill="#000" stroke="#000" stroke-width="0.3"/>
<polygon points="425.22,75.63 428.22,78.63 425.22,81.63 422.22,78.63" fill="#000" stroke="#000" stroke-width="0.3"/>
<polygon points="440.12,96.87 443.12,99.87 440.12,102.87 437.12,99.87" fill="#000" stroke="#000" stroke-width="0.3"/>
<polygon points="455.02,115.91 458.02,118.91 455.02,121.91 452.02,118.91" fill="#000" stroke="#000" stroke-width="0.3"/>
<polygon points="469.93,131.32 472.93,134.32 469.93,137.32 466.93,134.32" fill="#000" stroke="#000" stroke-width="0.3"/>
<polygon points="484.84,144.08 487.84,147.08 484.84,150.08 481.84,147.08" fill="#000" stroke="#000" stroke-width="0.3"/>
<polygon points="499.74,154.65 502.74,157.65 499.74,160.65 496.74,157.65" fill="#000" stroke="#000" stroke-width="0.3"/>
<polygon points="514.64,163.52 517.64,166.52 514.64,169.52 511.64,166.52" fill="#000" stroke="#000" stroke-width="0.3"/>
<polygon points="529.55,172.14 532.55,175.14 529.55,178.14 526.55,175.14" fill="#000" stroke="#000" stroke-width="0.3"/>
<polygon points="544.46,180.90 547.46,183.90 544.46,186.90 541.46,183.90" fill="#000" stroke="#000" stroke-width="0.3"/>
<polygon points="559.36,188.76 562.36,191.76 559.36,194.76 556.36,191.76" fill="#000" stroke="#000" stroke-width="0.3"/>
<polygon points="574.26,196.68 577.26,199.68 574.26,202.68 571.26,199.68" fill="#000" stroke="#000" stroke-width="0.3"/>
<polygon points="589.17,205.05 592.17,208.05 589.17,211.05 586.17,208.05" fill="#000" stroke="#000" stroke-width="0.3"/>
<polygon points="604.08,212.80 607.08,215.80 604.08,218.80 601.08,215.80" fill="#000" stroke="#000" stroke-width="0.3"/>
<polygon points="618.98,219.71 621.98,222.71 618.98,225.71 615.98,222.71" fill="#000" stroke="#000" stroke-width="0.3"/>
<polygon points="633.88,224.42 636.88,227.42 633.88,230.42 630.88,227.42" fill="#000" stroke="#000" stroke-width="0.3"/>
<polygon points="648.79,227.19 651.79,230.19 648.79,233.19 645.79,230.19" fill="#000" stroke="#000" stroke-width="0.3"/>
<polygon points="663.70,228.82 666.70,231.82 663.70,234.82 660.70,231.82" fill="#000" stroke="#000" stroke-width="0.3"/>
<polygon points="678.60,229.70 681.60,232.70 678.60,235.70 675.60,232.70" fill="#000" stroke="#000" stroke-width="0.3"/>
<polygon points="380.50,9.90 381.12,11.75 383.07,11.77 381.50,12.92 382.09,14.78 380.50,13.65 378.91,14.78 379.50,12.92 377.93,11.77 379.88,11.75" fill="#000" stroke="#000" stroke-width="0.3"/>
<polygon points="395.40,19.14 396.02,20.99 397.97,21.01 396.40,22.17 396.99,24.03 395.40,22.89 393.82,24.03 394.41,22.17 392.84,21.01 394.79,20.99" fill="#000" stroke="#000" stroke-width="0.3"/>
<polygon points="410.31,28.61 410.93,30.46 412.88,30.47 411.31,31.63 411.90,33.49 410.31,32.36 408.72,33.49 409.31,31.63 407.74,30.47 409.69,30.46" fill="#000" stroke="#000" stroke-width="0.3"/>
<polygon points="425.22,38.07 425.83,39.92 427.78,39.94 426.21,41.10 426.80,42.96 425.22,41.82 423.63,42.96 424.22,41.10 422.65,39.94 424.60,39.92" fill="#000" stroke="#000" stroke-width="0.3"/>
<polygon points="440.12,47.54 440.74,49.39 442.69,49.40 441.12,50.56 441.71,52.42 440.12,51.29 438.53,52.42 439.12,50.56 437.55,49.40 439.50,49.39" fill="#000" stroke="#000" stroke-width="0.3"/>
<polygon points="455.02,57.22 455.64,59.07 457.59,59.09 456.02,60.25 456.61,62.11 455.02,60.97 453.44,62.11 454.03,60.25 452.46,59.09 454.41,59.07" fill="#000" stroke="#000" stroke-width="0.3"/>
<polygon points="469.93,66.82 470.55,68.67 472.50,68.68 470.93,69.84 471.52,71.70 469.93,70.57 468.34,71.70 468.93,69.84 467.36,68.68 469.31,68.67" fill="#000" stroke="#000" stroke-width="0.3"/>
<polygon points="484.84,76.48 485.45,78.33 487.40,78.35 485.83,79.50 486.42,81.36 484.84,80.23 483.25,81.36 483.84,79.50 482.27,78.35 484.22,78.33" fill="#000" stroke="#000" stroke-width="0.3"/>
<polygon points="499.74,86.05 500.36,87.91 502.31,87.92 500.74,89.08 501.33,90.94 499.74,89.80 498.15,90.94 498.74,89.08 497.17,87.92 499.12,87.91" fill="#000" stroke="#000" stroke-width="0.3"/>
<polygon points="514.64,95.08 515.26,96.93 517.21,96.94 515.64,98.10 516.23,99.96 514.64,98.83 513.06,99.96 513.65,98.10 512.08,96.94 514.03,96.93" fill="#000" stroke="#000" stroke-width="0.3"/>
<polygon points="529.55,104.10 530.17,105.95 532.12,105.97 530.55,107.13 531.14,108.99 529.55,107.85 527.96,108.99 528.55,107.13 526.98,105.97 528.93,105.95" fill="#000" stroke="#000" stroke-width="0.3"/>
<polygon points="544.46,112.47 545.07,114.32 547.02,114.33 545.45,115.49 546.04,117.35 544.46,116.22 542.87,117.35 543.46,115.49 541.89,114.33 543.84,114.32" fill="#000" stroke="#000" stroke-width="0.3"/>
<polygon points="559.36,120.83 559.98,122.68 561.93,122.70 560.36,123.85 560.95,125.71 559.36,124.58 557.77,125.71 558.36,123.85 556.79,122.70 558.74,122.68" fill="#000" stroke="#000" stroke-width="0.3"/>
<polygon points="574.26,129.19 574.88,131.04 576.83,131.06 575.26,132.22 575.85,134.08 574.26,132.94 572.68,134.08 573.27,132.22 571.70,131.06 573.65,131.04" fill="#000" stroke="#000" stroke-width="0.3"/>
<polygon points="589.17,137.34 589.79,139.19 591.74,139.20 590.17,140.36 590.76,142.22 589.17,141.09 587.58,142.22 588.17,140.36 586.60,139.20 588.55,139.19" fill="#000" stroke="#000" stroke-width="0.3"/>
<polygon points="604.08,144.38 604.69,146.23 606.64,146.25 605.07,147.41 605.66,149.27 604.08,148.13 602.49,149.27 603.08,147.41 601.51,146.25 603.46,146.23" fill="#000" stroke="#000" stroke-width="0.3"/>
<polygon points="618.98,151.64 619.60,153.49 621.55,153.51 619.98,154.67 620.57,156.53 618.98,155.39 617.39,156.53 617.98,154.67 616.41,153.51 618.36,153.49" fill="#000" stroke="#000" stroke-width="0.3"/>
<polygon points="633.88,158.80 634.50,160.65 636.45,160.66 634.88,161.82 635.47,163.68 633.88,162.55 632.30,163.68 632.89,161.82 631.32,160.66 633.27,160.65" fill="#000" stroke="#000" stroke-width="0.3"/>
<polygon points="648.79,165.14 649.41,166.99 651.36,167.00 649.79,168.16 650.38,170.02 648.79,168.89 647.20,170.02 647.79,168.16 646.22,167.00 648.17,166.99" fill="#000" stroke="#000" stroke-width="0.3"/>
<polygon points="663.70,171.30 664.31,173.15 666.26,173.16 664.69,174.32 665.28,176.18 663.70,175.05 662.11,176.18 662.70,174.32 661.13,173.16 663.08,173.15" fill="#000" stroke="#000" stroke-width="0.3"/>
<polygon points="678.60,177.51 679.22,179.36 681.17,179.37 679.60,180.53 680.19,182.39 678.60,181.26 677.01,182.39 677.60,180.53 676.03,179.37 677.98,179.36" fill="#000" stroke="#000" stroke-width="0.3"/>
</g>
<text x="381.20" y="246.60" text-anchor="middle" class="tkx">0</text>
<text x="430.88" y="246.60" text-anchor="middle" class="tkx">10</text>
<text x="480.57" y="246.60" text-anchor="middle" class="tkx">20</text>
<text x="530.25" y="246.60" text-anchor="middle" class="tkx">30</text>
<text x="579.93" y="246.60" text-anchor="middle" class="tkx">40</text>
<text x="629.62" y="246.60" text-anchor="middle" class="tkx">50</text>
<text x="679.30" y="246.60" text-anchor="middle" class="tkx">60</text>
<text x="373.70" y="234.80" text-anchor="end" class="tk">0.0</text>
<text x="373.70" y="190.78" text-anchor="end" class="tk">0.2</text>
<text x="373.70" y="146.76" text-anchor="end" class="tk">0.4</text>
<text x="373.70" y="102.74" text-anchor="end" class="tk">0.6</text>
<text x="373.70" y="58.72" text-anchor="end" class="tk">0.8</text>
<text x="373.70" y="14.70" text-anchor="end" class="tk">1.0</text>
<path d="M275.8 17.5H283.40000000000003M291.8 17.5H298.9" stroke="#777" stroke-width="0.9"/>
<rect x="285.47" y="15.37" width="4.27" height="4.27" fill="#fff" stroke="#555" stroke-width="0.8"/>
<text x="302.6" y="21.10" class="lgA">30D</text>
<path d="M275.8 30.9H283.40000000000003M291.8 30.9H298.9" stroke="#777" stroke-width="0.9"/>
<circle cx="287.60" cy="30.90" r="2.33" fill="#fff" stroke="#555" stroke-width="0.8"/>
<text x="302.6" y="34.50" class="lgA">20D</text>
<path d="M275.8 43.8H283.40000000000003M291.8 43.8H298.9" stroke="#777" stroke-width="0.9"/>
<polygon points="287.60,40.45 290.61,45.88 284.59,45.88" fill="#fff" stroke="#555" stroke-width="0.8"/>
<text x="302.6" y="47.40" class="lgA">10D</text>
<path d="M275.8 57.0H283.40000000000003M291.8 57.0H298.9" stroke="#777" stroke-width="0.9"/>
<polygon points="287.60,60.35 290.61,54.92 284.59,54.92" fill="#fff" stroke="#555" stroke-width="0.8"/>
<text x="302.6" y="60.60" class="lgA">0D</text>
<path d="M275.8 70.3H283.40000000000003M291.8 70.3H298.9" stroke="#777" stroke-width="0.9"/>
<polygon points="287.60,67.39 290.51,70.30 287.60,73.21 284.69,70.30" fill="#fff" stroke="#555" stroke-width="0.8"/>
<text x="302.6" y="73.90" class="lgA">-10D</text>
<path d="M275.8 83.4H283.40000000000003M291.8 83.4H298.9" stroke="#777" stroke-width="0.9"/>
<polygon points="287.60,80.96 288.19,82.59 289.92,82.65 288.55,83.71 289.03,85.37 287.60,84.40 286.17,85.37 286.65,83.71 285.28,82.65 287.01,82.59" fill="#fff" stroke="#555" stroke-width="0.8"/>
<text x="302.6" y="87.00" class="lgA">Liou</text>
<path d="M605.2 16.7H612.9M621.3000000000001 16.7H628.9" stroke="#777" stroke-width="0.9"/>
<rect x="614.97" y="14.57" width="4.27" height="4.27" fill="#000" stroke="#000" stroke-width="0.3"/>
<text x="631.9" y="20.30" class="lgB">30D</text>
<path d="M605.2 29.5H612.9M621.3000000000001 29.5H628.9" stroke="#777" stroke-width="0.9"/>
<circle cx="617.10" cy="29.50" r="2.33" fill="#000" stroke="#000" stroke-width="0.3"/>
<text x="631.9" y="33.10" class="lgB">20D</text>
<path d="M605.2 42.3H612.9M621.3000000000001 42.3H628.9" stroke="#777" stroke-width="0.9"/>
<polygon points="617.10,39.51 619.61,44.03 614.59,44.03" fill="#000" stroke="#000" stroke-width="0.3"/>
<text x="631.9" y="45.90" class="lgB">10D</text>
<path d="M605.2 55.1H612.9M621.3000000000001 55.1H628.9" stroke="#777" stroke-width="0.9"/>
<polygon points="617.10,57.89 619.61,53.37 614.59,53.37" fill="#000" stroke="#000" stroke-width="0.3"/>
<text x="631.9" y="58.70" class="lgB">0D</text>
<path d="M605.2 67.9H612.9M621.3000000000001 67.9H628.9" stroke="#777" stroke-width="0.9"/>
<polygon points="617.10,64.99 620.01,67.90 617.10,70.81 614.19,67.90" fill="#000" stroke="#000" stroke-width="0.3"/>
<text x="631.9" y="71.50" class="lgB">-10D</text>
<path d="M605.2 80.4H612.9M621.3000000000001 80.4H628.9" stroke="#777" stroke-width="0.9"/>
<polygon points="617.10,77.70 617.72,79.55 619.67,79.57 618.10,80.72 618.69,82.58 617.10,81.45 615.51,82.58 616.10,80.72 614.53,79.57 616.48,79.55" fill="#000" stroke="#000" stroke-width="0.3"/>
<text x="631.9" y="84.00" class="lgB">Liou</text>
<text x="185.2" y="21" text-anchor="middle" class="ttl">a</text>
<text x="525.9" y="22.4" style="font-size:18px">b</text>
<text transform="translate(9.7 111.3) rotate(-90)" text-anchor="middle" class="mtfA">MTF</text>
<text transform="translate(355.5 111) rotate(-90)" text-anchor="middle" class="mtfB">MTF</text>
<text x="176.2" y="259.1" text-anchor="middle" class="xl">Spatial frequency (c/d)</text>
<text x="176.2" y="273.8" text-anchor="middle" class="xl">555nm monochromatic light</text>
<text x="524.9" y="259.1" text-anchor="middle" class="xl">Spatial frequency (c/d)</text>
<text x="530.7" y="274.4" text-anchor="middle" class="xl">470~650nm polychromatic light</text>
</svg>
</body></html>
